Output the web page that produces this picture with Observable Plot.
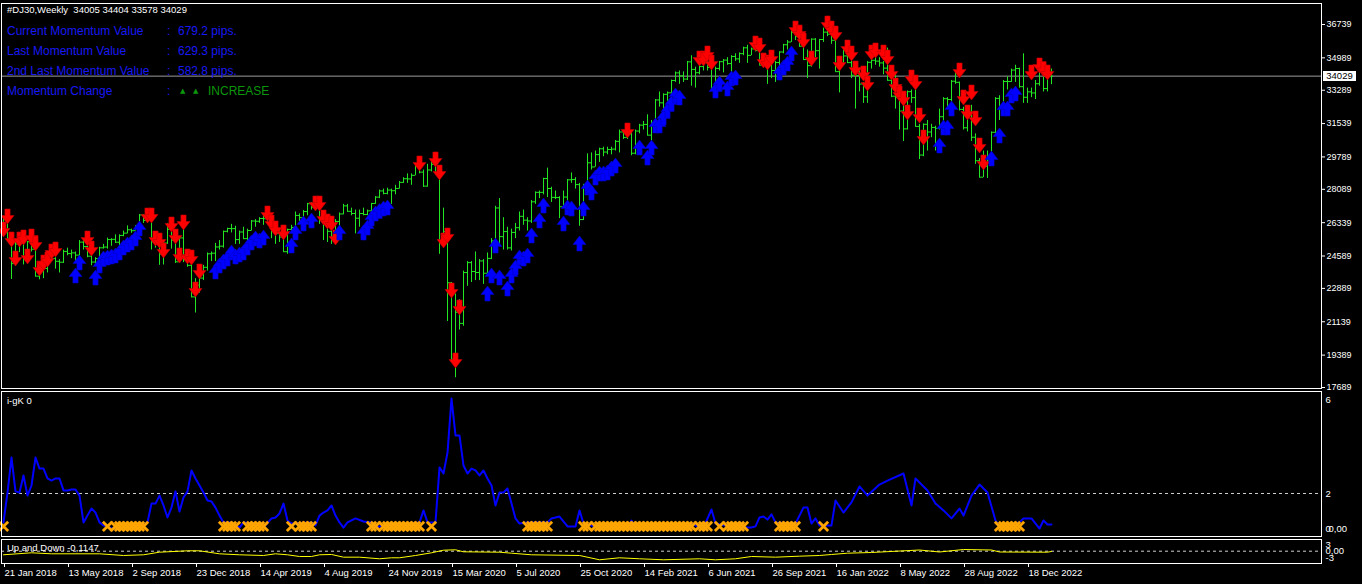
<!DOCTYPE html>
<html><head><meta charset="utf-8">
<script src="https://cdn.jsdelivr.net/npm/d3@7"></script>
<script src="https://cdn.jsdelivr.net/npm/@observablehq/plot@0.6"></script>
<style>
html,body{margin:0;padding:0;background:#000;width:1362px;height:584px;overflow:hidden;}
#root{position:relative;width:1362px;height:584px;background:#000;font-family:"Liberation Sans",Arial,sans-serif;}
.t{position:absolute;white-space:pre;}
</style></head><body><div id="root"></div>
<script>
// ---------- DATA ----------
const symbolName = "#DJ30,Weekly";
const firstWeek = "2018-01-21";
const opens = [
26072,26616,25521,24191,25219,25310,24538,25336,24946,23533,
24103,23933,24360,24463,24311,24263,24831,24715,24753,24635,
25317,25090,24580,24271,24456,25019,25058,25451,25463,25313,
25669,25790,25965,25917,26154,26743,26458,26447,25340,25444,
24688,25270,25989,25413,24286,25538,24389,24100,22445,23062,
23433,23996,24706,24737,25064,25106,25883,26031,26026,25450,
25849,25502,25929,26425,26412,26559,26543,26505,25942,25764,
25585,24815,25984,26090,26719,26600,26922,27332,27154,27192,
26485,26287,25886,25629,26403,26797,27220,26935,26820,26573,
26817,26770,26958,27347,27681,28005,27876,28051,28015,28135,
28455,28645,28634,28824,29348,28990,28256,29103,29398,28992,
25409,25865,23186,19174,21637,21053,23719,24242,23775,23724,
24331,23685,24465,25383,27111,25606,25871,25016,25827,26075,
26672,26470,26428,27433,27931,27930,28654,28133,27666,27657,
27174,27683,28587,28606,28336,26502,28323,29480,29263,29910,
30218,30046,30179,30200,30606,31098,30814,30997,29983,31148,
31458,31494,30932,31496,32779,32628,33073,33153,33801,34200,
34043,33875,34778,34382,34208,34529,34756,34480,33290,34434,
34786,34870,34688,35062,34935,35209,35515,35120,35456,35369,
34608,34584,34798,34326,34746,35295,35677,35820,36328,36100,
35602,34899,34580,35971,35365,35951,36338,36231,35912,34265,
34725,35089,34738,34079,34059,33615,32944,34754,34861,34818,
34721,34451,33811,32977,32900,32197,31262,33213,32900,31393,
29888,31501,31097,31338,31289,31899,32845,32803,33761,33706,
32283,31318,32151,30822,29590,28725,29297,29634,31082,32861,
32403,33747,33746,34347,34430,33476,32920,33203,33147,33631,
34302,33375,34005];
const highs = [
26617,26620,25520,25432,25400,25800,25350,25450,25000,24200,
24600,24500,24860,24500,24400,24900,25000,24900,24800,25400,
25400,25100,24600,24500,25050,25200,25530,25500,25700,25700,
25900,26170,26000,26180,26770,26770,26950,26500,25800,25500,
25400,26300,26000,25500,25600,25980,24800,24200,23400,23450,
24100,24750,24800,25250,25400,25900,26050,26250,26150,25900,
26100,26000,26450,26500,26600,26700,26700,26510,26000,26000,
25600,26000,26200,26900,26800,26980,27350,27400,27300,27400,
26500,26500,26300,26500,26850,27300,27300,27100,27000,27000,
27100,27000,27350,27700,28050,28100,28150,28100,28300,28500,
28700,28900,28900,29400,29400,29100,29400,29600,29570,29000,
27100,25900,23200,22600,22300,23800,24300,24300,24800,24400,
24400,24750,25500,27200,27600,26600,26100,26000,26300,26900,
27000,26600,27500,27950,28000,28670,29200,28200,28000,27700,
28000,28600,28950,28700,28400,28350,29950,30000,30100,30250,
30300,30300,30300,30650,31200,31200,31200,31100,31200,31500,
31650,32000,31700,32800,33200,33100,33200,33820,34250,34300,
34250,34800,35100,34500,34600,34850,34850,34500,34500,34800,
34900,35000,35100,35200,35250,35550,35650,35500,35650,35400,
34900,34900,35000,34800,35300,35700,35900,36500,36600,36300,
35900,35400,35980,36000,35960,36550,36950,36400,36000,34750,
35400,35800,35000,34300,34300,33700,34800,35000,35400,35000,
34800,35500,34300,34100,33000,32600,33250,33300,33300,31500,
31520,31700,31500,31400,32300,32900,32900,33800,34300,33720,
32400,32200,32500,31000,29700,30100,30100,31100,32900,33000,
33800,33990,34400,34600,34450,35200,33400,33400,33800,34400,
34400,34000,34404];
const lows = [
26000,25420,23360,24050,24770,24120,24300,24800,23500,23340,
23400,23700,24300,23900,23700,24200,24600,24450,24250,24600,
24900,24500,24080,24120,24400,24950,24950,25100,25250,25000,
25600,25750,25780,25900,26150,26300,26300,24900,25000,24100,
24120,25200,24950,24200,24270,24240,24000,22400,21600,22640,
23300,23800,24300,24300,24900,25000,25800,25800,25200,25200,
25450,25300,25900,26100,26300,26200,26250,25500,25200,25300,
24800,24680,25900,26000,26400,26600,26700,27000,27000,26250,
25400,25300,25200,25300,26000,26750,26900,26700,25750,26100,
26700,26700,26900,27300,27600,27800,27800,27300,27800,28100,
28400,28400,28300,28800,28900,28200,28200,29000,28950,24680,
25200,21150,19100,18200,20700,20900,23000,23200,23300,23300,
23100,23650,24400,25300,25100,24900,24900,24850,25500,25900,
26200,25900,26300,27300,27600,27800,27660,27400,27550,26550,
27100,27400,28400,28100,26150,26450,28300,29100,29250,29500,
29800,29900,29900,30100,30000,30700,30700,29850,29900,31000,
31200,30900,30500,31400,32400,32200,32700,33000,33700,33600,
33700,33800,33500,33400,34100,34300,34300,33270,33280,34300,
34200,34600,33700,34800,34700,35100,34700,35100,35300,34600,
34500,33600,33900,33700,34400,35200,35400,35800,35900,35550,
34850,33900,34500,35000,34400,35800,36100,35700,34250,33150,
34600,34700,33900,32300,33200,32600,32600,34400,34600,34500,
34100,33800,32900,32300,31200,30600,31200,32600,31380,29650,
29800,30100,30800,30100,31200,31500,32300,32400,33600,32200,
31200,31100,30600,29400,28700,28700,28660,29600,31000,31700,
32300,33300,33700,33700,33400,32600,32600,32900,32800,33500,
33200,33200,33578];
const closes = [
26616,25521,24191,25219,25310,24538,25336,24946,23533,24103,
23933,24360,24463,24311,24263,24831,24715,24753,24635,25317,
25090,24580,24271,24456,25019,25058,25451,25463,25313,25669,
25790,25965,25917,26154,26743,26458,26447,25340,25444,24688,
25270,25989,25413,24286,25538,24389,24100,22445,23062,23433,
23996,24706,24737,25064,25106,25883,26031,26026,25450,25849,
25502,25929,26425,26412,26559,26543,26505,25942,25764,25585,
24815,25984,26090,26719,26600,26922,27332,27154,27192,26485,
26287,25886,25629,26403,26797,27220,26935,26820,26573,26817,
26770,26958,27347,27681,28005,27876,28051,28015,28135,28455,
28645,28634,28824,29348,28990,28256,29103,29398,28992,25409,
25865,23186,19174,21637,21053,23719,24242,23775,23724,24331,
23685,24465,25383,27111,25606,25871,25016,25827,26075,26672,
26470,26428,27433,27931,27930,28654,28133,27666,27657,27174,
27683,28587,28606,28336,26502,28323,29480,29263,29910,30218,
30046,30179,30200,30606,31098,30814,30997,29983,31148,31458,
31494,30932,31496,32779,32628,33073,33153,33801,34200,34043,
33875,34778,34382,34208,34529,34756,34480,33290,34434,34786,
34870,34688,35062,34935,35209,35515,35120,35456,35369,34608,
34584,34798,34326,34746,35295,35677,35820,36328,36100,35602,
34899,34580,35971,35365,35951,36338,36231,35912,34265,34725,
35089,34738,34079,34059,33615,32944,34754,34861,34818,34721,
34451,33811,32977,32900,32197,31262,33213,32900,31393,29888,
31501,31097,31338,31289,31899,32845,32803,33761,33706,32283,
31318,32151,30822,29590,28725,29297,29634,31082,32861,32403,
33747,33746,34347,34430,33476,32920,33203,33147,33631,34302,
33375,33978,34029];
const priceTicks = [36739,34989,33289,31539,29789,28089,26339,24589,22889,21139,19389,17689];
const currentPrice = 34029;
const lastBar = {o: 34005, h: 34404, l: 33578, c: 34029};
const dateTicks = ["2018-01-21","2018-05-13","2018-09-02","2018-12-23","2019-04-14","2019-08-04","2019-11-24","2020-03-15","2020-07-05","2020-10-25","2021-02-14","2021-06-06","2021-09-26","2022-01-16","2022-05-08","2022-08-28","2022-12-18"];

// signal arrows (bar number, price)
const redArrowBars = [0,1,2,3,4,5,6,7,8,9,10,11,12,13,21,22,36,37,38,39,40,42,43,44,45,46,47,48,49,66,67,68,70,78,79,80,81,82,83,104,108,109,110,111,112,113,114,156,174,175,176,177,188,189,190,191,192,198,199,200,202,206,207,208,209,211,212,213,215,216,217,218,220,221,222,223,224,225,226,227,228,229,230,239,240,241,242,243,244,245,257,259,260,261];
const redArrowPrices = [25980,26662,25455,24458,25455,25560,24563,25613,25245,23933,24248,24406,24826,24930,25508,24983,26715,26715,25508,25403,24878,26242,25613,24616,26347,24563,24511,22831,23776,26820,26347,26033,25823,27345,27345,26610,26400,26295,25560,29444,29654,28971,25403,25665,22779,19105,21887,31176,34954,34954,35217,34744,35741,35636,34849,34744,35007,36529,36319,35899,34954,36791,36529,36266,34692,35531,35217,34429,34167,33642,35269,35374,35269,35007,34219,33537,33117,32855,32120,33957,33695,31963,30808,34324,32907,32120,33170,31805,30388,29496,34219,34587,34400,34219];
const blueArrowBars = [18,19,23,24,25,26,27,28,29,30,31,32,33,34,53,54,55,56,57,58,59,60,61,62,63,64,65,72,73,75,77,84,90,91,92,93,94,95,96,121,122,123,124,126,127,128,129,130,131,132,134,135,140,141,142,144,145,146,147,148,149,150,151,152,153,159,161,162,163,164,165,166,167,168,169,178,179,181,182,183,194,195,196,197,234,235,236,237,247,249,250,251,252,253];
const blueArrowPrices = [23566,24248,23461,24091,24458,24511,24563,24616,24773,25036,25193,25298,25508,26033,23776,24091,24300,24458,24773,24563,24668,24773,25036,25298,25508,25403,25560,25140,25823,26295,26452,25823,25823,26085,26557,26820,26950,27082,27135,22621,23566,25140,23461,22884,23566,23986,24511,24458,24616,25665,26452,27240,26295,27135,27082,25245,27082,28184,27922,28709,28919,28919,28971,29181,29339,30283,29759,30283,31438,31438,31858,32225,32593,33012,32907,33275,33642,33380,33905,33957,34219,34482,34692,35217,30388,31333,31333,32330,29706,30913,32330,32330,33012,33117];

// i-gK indicator
const igkBars = [0,1,2,3,4,5,6,7,8,9,10,11,12,13,14,15,16,17,18,19,20,21,22,23,24,25,26,27,30,35,36,37,38,39,40,41,42,43,44,45,46,47,48,49,50,51,52,53,54,55,57,59,60,63,65,67,68,69,70,71,72,77,78,79,80,81,82,83,84,85,86,88,90,92,93,95,104,105,106,108,109,110,111,112,113,114,115,116,117,118,119,120,121,122,123,124,125,126,127,128,129,131,136,137,139,141,143,144,145,149,153,156,157,158,171,172,173,175,177,178,183,187,188,189,190,191,192,193,198,200,201,202,203,204,207,208,210,212,214,216,219,221,225,227,228,231,233,235,237,239,240,242,244,246,248,249,254,255,257,259,260,261,262];
const igkValues = [0.77,2.04,3.53,2.09,2.04,2.77,1.91,2.34,3.53,3.06,3.06,2.64,2.55,2.64,2.64,2.13,2.13,2.17,2.17,1.91,0.77,1.06,1.36,1.19,0.77,0.64,0.6,0.51,0.55,0.64,0.77,1.57,1.57,1.91,1.49,0.98,1.4,2.09,1.23,1.83,2.09,2.98,2.64,2.34,2.04,1.7,1.66,1.4,1.06,0.77,0.77,0.55,0.77,0.72,0.55,0.94,0.98,1.15,1.57,0.85,0.72,0.77,0.64,1.06,1.19,1.28,1.49,1.06,0.77,0.55,0.77,0.94,0.81,0.77,0.55,0.64,0.77,1.28,0.77,0.77,3.11,2.85,3.74,6.04,4.47,4.47,3.19,2.85,3.06,2.98,2.77,2.98,2.64,2.34,1.49,2.04,2.04,2.21,1.57,0.94,0.72,0.77,0.77,0.94,1.02,0.6,0.6,1.28,0.72,0.55,0.64,0.55,0.85,0.55,0.55,0.72,0.64,0.55,1.32,0.72,0.55,0.55,0.6,0.98,1.02,0.89,1.11,0.77,0.72,1.4,1.4,0.72,0.94,0.64,0.64,1.7,1.19,1.62,2.3,1.91,2.38,2.55,2.85,1.49,2.64,2.13,1.57,1.28,0.94,1.36,1.06,1.91,2.38,2.04,0.85,0.6,0.77,0.94,0.94,0.51,0.85,0.68,0.68];
const igkCrossBars = [0,26,28,29,30,31,32,33,34,35,55,56,57,58,61,62,63,64,65,72,74,75,76,77,92,93,95,96,97,98,99,100,101,102,103,104,107,131,132,133,134,135,136,145,146,148,149,150,151,152,153,154,155,156,157,158,159,160,161,162,163,164,165,166,167,168,169,170,171,172,174,175,176,179,181,182,183,184,185,194,195,196,197,198,205,249,250,251,252,253,254];
const igkCrossLevel = 0.6;
const igkLevel = 2;
const igkTicks = [6, 2];
const igkFloor = 0.51;

// Up and Down indicator
const udBars = [0,7,12,24,30,35,39,46,49,54,59,65,68,71,74,77,79,82,85,89,94,97,99,103,107,110,113,115,124,127,132,144,149,154,159,165,174,178,183,187,193,199,204,207,211,217,229,234,240,247,249,261,262];
const udValues = [-1.66,-0.74,-1.2,-1.2,-1.98,-1.66,-0.46,0.18,0.18,-1.2,-1.66,-1.98,-1.2,-1.66,-2.44,-2.44,-1.66,-1.52,-2.76,-2.76,-3.5,-3.04,-3.04,-1.98,-0.74,0.46,0.65,-0.28,-0.46,-0.92,-1.66,-1.98,-3.96,-3.04,-3.5,-3.96,-3.5,-3.96,-3.5,-2.44,-2.76,-2.3,-1.98,-1.52,-0.92,-0.6,0.55,-0.37,0.78,0.55,-0.37,-0.46,-0.11];
const udLast = "-0,1147";
const udTicks = [3, 0, -3];

// ---------- BUILD ----------
const DAY = 864e5;
const t0 = Date.parse(firstWeek);
const weekDate = i => new Date(t0 + i * 7 * DAY);
const bars = closes.map((c, i) => ({date: weekDate(i), o: opens[i], h: highs[i], l: lows[i], c}));
const redArrows = redArrowBars.map((b, k) => ({date: weekDate(b), p: redArrowPrices[k]}));
const blueArrows = blueArrowBars.map((b, k) => ({date: weekDate(b), p: blueArrowPrices[k]}));
const igk = igkBars.map((b, k) => ({date: weekDate(b), v: igkValues[k]}));
const crosses = igkCrossBars.map(b => ({date: weekDate(b), v: igkCrossLevel}));
const ud = udBars.map((b, k) => ({date: weekDate(b), v: udValues[k]}));

const xScale = {type: "utc", domain: [new Date(t0 - 3.5 * DAY), new Date(t0 + 2306.5 * DAY)], range: [1, 1321], axis: null};
const GREEN = "#22e622";
const baseStyle = {background: "#000", color: "#fff", fontFamily: "Liberation Sans, Arial, sans-serif", fontSize: "9px", overflow: "visible"};

const downArrow = {draw(ctx) {
  ctx.moveTo(-2.6, -7.5); ctx.lineTo(2.6, -7.5); ctx.lineTo(2.6, -1); ctx.lineTo(6.5, -1);
  ctx.lineTo(0, 7.5); ctx.lineTo(-6.5, -1); ctx.lineTo(-2.6, -1); ctx.closePath();
}};
const upArrow = {draw(ctx) {
  ctx.moveTo(-2.6, 7.5); ctx.lineTo(2.6, 7.5); ctx.lineTo(2.6, 1); ctx.lineTo(6.5, 1);
  ctx.lineTo(0, -7.5); ctx.lineTo(-6.5, 1); ctx.lineTo(-2.6, 1); ctx.closePath();
}};

const root = document.getElementById("root");
function place(node, top) {
  node.style.position = "absolute"; node.style.left = "0px"; node.style.top = top + "px";
  root.appendChild(node);
}
function label(text, left, top, size, color, family) {
  const d = document.createElement("div");
  d.className = "t"; d.textContent = text;
  d.style.left = left + "px"; d.style.top = top + "px";
  d.style.fontSize = size + "px"; d.style.lineHeight = "12px"; d.style.color = color;
  if (family) d.style.fontFamily = family;
  root.appendChild(d); return d;
}

// main price panel
const main = Plot.plot({
  width: 1362, height: 390, marginLeft: 1, marginRight: 41, marginTop: 3, marginBottom: 2,
  style: baseStyle,
  x: xScale,
  y: {domain: [17636, 37841], axis: null},
  marks: [
    Plot.ruleY([currentPrice], {stroke: "#9c9c9c"}),
    Plot.ruleX(bars, {x: "date", y1: "l", y2: "h", stroke: GREEN}),
    Plot.ruleY(bars, {x1: d => new Date(+d.date - 3.5 * DAY), x2: "date", y: "o", stroke: GREEN}),
    Plot.ruleY(bars, {x1: "date", x2: d => new Date(+d.date + 3.5 * DAY), y: "c", stroke: GREEN}),
    Plot.dot(redArrows, {x: "date", y: "p", symbol: downArrow, fill: "#ff0000", stroke: "#c00000", strokeWidth: 0.6}),
    Plot.dot(blueArrows, {x: "date", y: "p", symbol: upArrow, fill: "#0000ff", stroke: "#0000c0", strokeWidth: 0.6}),
    Plot.frame({stroke: "#fff"}),
    Plot.axisY({anchor: "right", label: null, ticks: priceTicks, tickFormat: "d", tickSize: 3, tickPadding: 2, fontSize: 9})
  ]
});
place(main, 0);

// i-gK panel
const igkPlot = Plot.plot({
  width: 1362, height: 147, marginLeft: 1, marginRight: 41, marginTop: 1, marginBottom: 1,
  style: baseStyle,
  x: xScale,
  y: {domain: [0.17, 6.34], axis: null},
  marks: [
    Plot.ruleY([igkLevel], {stroke: "#cfcfcf", strokeDasharray: "3,3"}),
    Plot.line(igk, {x: "date", y: "v", stroke: "#0000ff", strokeWidth: 2}),
    Plot.dot(crosses, {x: "date", y: "v", symbol: "times", r: 4.3, stroke: "#ffa500", strokeWidth: 2.8}),
    Plot.frame({stroke: "#fff"}),
    Plot.axisY({anchor: "right", label: null, ticks: igkTicks, tickFormat: d => String(d), tickSize: 0, tickPadding: 4, fontSize: 9.5}),
    Plot.axisY({anchor: "right", label: null, ticks: [igkFloor], tickFormat: () => "0", tickSize: 0, tickPadding: 4, fontSize: 9.5}),
    Plot.axisY({anchor: "right", label: null, ticks: [igkFloor], tickFormat: () => "0,00", tickSize: 0, tickPadding: 7, fontSize: 9.5})
  ]
});
place(igkPlot, 390);

// Up and Down panel + date axis
const udPlot = Plot.plot({
  width: 1362, height: 47, marginLeft: 1, marginRight: 41, marginTop: 2, marginBottom: 21,
  style: baseStyle,
  x: xScale,
  y: {domain: [-5.67, 5.39], axis: null},
  marks: [
    Plot.ruleY([0], {stroke: "#cfcfcf", strokeDasharray: "3,3"}),
    Plot.line(ud, {x: "date", y: "v", stroke: "#ffff00", strokeWidth: 1}),
    Plot.frame({stroke: "#fff"}),
    Plot.axisY({anchor: "right", label: null, ticks: udTicks, tickFormat: d => d === 0 ? "0,00" : String(d), tickSize: 0, tickPadding: 4, fontSize: 9.5}),
    Plot.axisX({anchor: "bottom", label: null, ticks: dateTicks.map(s => new Date(Date.parse(s))), tickFormat: d3.utcFormat("%-d %b %Y"),
      tickSize: 4, tickPadding: 2, textAnchor: "start", dx: 1, fontSize: 9.5})
  ]
});
place(udPlot, 537);

// ---------- TEXT OVERLAYS ----------
label(`${symbolName}  ${lastBar.o} ${lastBar.h} ${lastBar.l} ${lastBar.c}`, 7, 4, 9.5, "#fff");
const BLUE = "#1818f4", DGREEN = "#0c960c";
const rows = [
  ["Current Momentum Value", "679.2 pips."],
  ["Last Momentum Value", "629.3 pips."],
  ["2nd Last Momentum Value", "582.8 pips."]
];
rows.forEach((r, k) => {
  label(r[0], 7, 25 + 20 * k, 12, BLUE);
  label(":", 167, 25 + 20 * k, 12, BLUE);
  label(r[1], 178, 25 + 20 * k, 12, BLUE);
});
label("Momentum Change", 7, 85, 12, BLUE);
label(":", 167, 85, 12, BLUE);
label("\u25B2", 180, 85, 7, DGREEN, "DejaVu Sans");
label("\u25B2", 193, 85, 7, DGREEN, "DejaVu Sans");
label("INCREASE", 208, 85, 12, DGREEN);

label("i-gK 0", 7, 395, 9.5, "#fff");
label(`Up and Down ${udLast}`, 7, 542, 9.5, "#fff");

const pbox = label(String(currentPrice), 1323, 71, 9.5, "#000");
pbox.style.background = "#fff"; pbox.style.width = "33px"; pbox.style.height = "10px";
pbox.style.lineHeight = "10px"; pbox.style.textAlign = "center";
</script></body></html>
